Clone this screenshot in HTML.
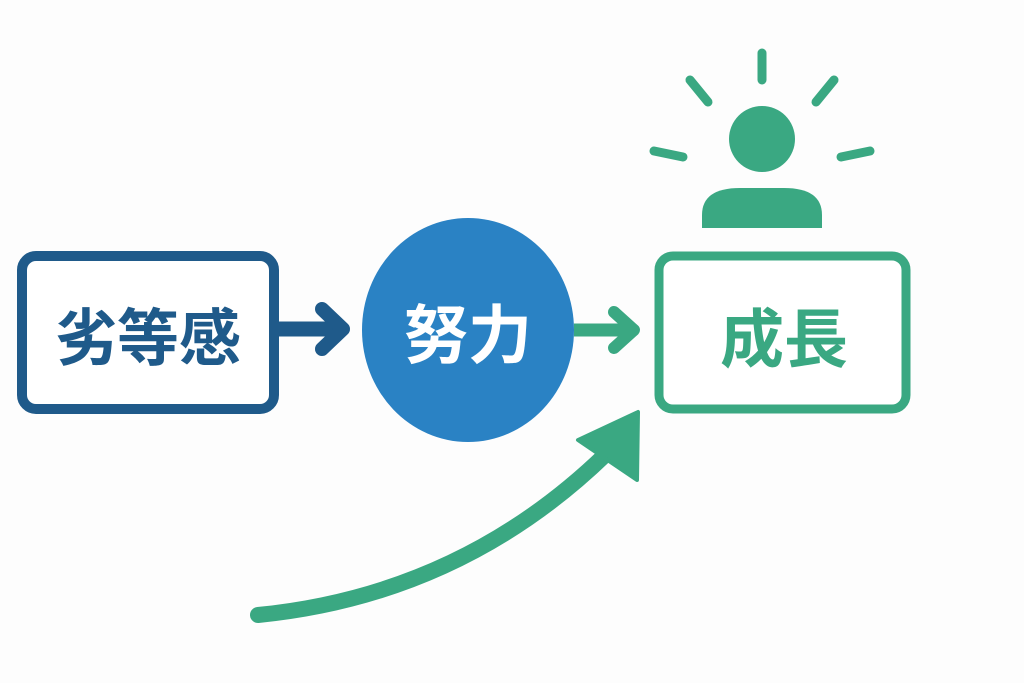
<!DOCTYPE html>
<html><head><meta charset="utf-8"><style>
html,body{margin:0;padding:0;background:#fdfdfd;}
svg{display:block}
text{font-family:"Liberation Sans","Noto Sans CJK JP",sans-serif;font-weight:bold;}
</style></head><body>
<svg width="1024" height="683" viewBox="0 0 1024 683" xmlns="http://www.w3.org/2000/svg">
<rect x="22" y="256" width="252" height="153" rx="14" fill="#fff" stroke="#1f5a8a" stroke-width="10"/>
<text x="148" y="360" font-size="62" fill="#1f5a8a" text-anchor="middle">劣等感</text>
<line x1="278" y1="329" x2="338" y2="329" stroke="#1f5a8a" stroke-width="15"/>
<polyline points="322,309 343,329 322,349" fill="none" stroke="#1f5a8a" stroke-width="14" stroke-linecap="round" stroke-linejoin="round"/>
<ellipse cx="468" cy="330" rx="106" ry="112" fill="#2a82c4"/>
<text x="468" y="358" font-size="64" fill="#fff" text-anchor="middle" font-weight="normal">努力</text>
<line x1="574" y1="330" x2="630" y2="330" stroke="#3aa882" stroke-width="13"/>
<polyline points="614,312 634,330 614,348" fill="none" stroke="#3aa882" stroke-width="12" stroke-linecap="round" stroke-linejoin="round"/>
<rect x="659" y="256" width="247" height="153" rx="14" fill="#fff" stroke="#3aa882" stroke-width="9"/>
<text x="784" y="362" font-size="64" fill="#3aa882" text-anchor="middle">成長</text>
<circle cx="762" cy="139" r="33" fill="#3aa882"/>
<path d="M702 228 L702 215 Q702 188 740 188 L784 188 Q822 188 822 215 L822 228 Z" fill="#3aa882"/>
<g stroke="#3aa882" stroke-width="9" stroke-linecap="round">
<line x1="762" y1="53" x2="762" y2="80"/>
<line x1="690" y1="80" x2="708" y2="102"/>
<line x1="834" y1="80" x2="816" y2="102"/>
<line x1="654" y1="151" x2="683" y2="157"/>
<line x1="870" y1="151" x2="841" y2="157"/>
</g>
<path d="M258 615 Q460 595 605 455" fill="none" stroke="#3aa882" stroke-width="16" stroke-linecap="round"/>
<polygon points="578,440 638,412 637,480" fill="#3aa882" stroke="#3aa882" stroke-width="4" stroke-linejoin="round"/>
</svg>
</body></html>
